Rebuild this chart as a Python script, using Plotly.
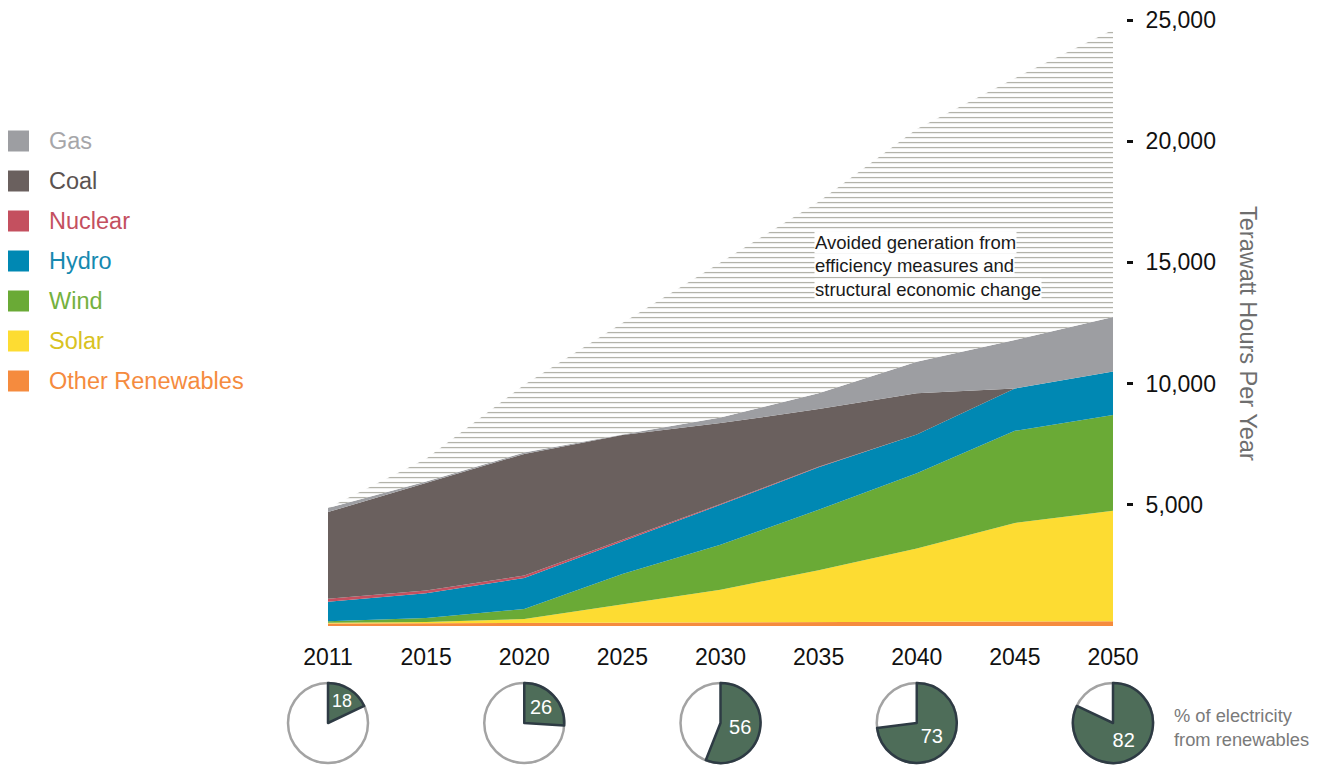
import plotly.graph_objects as go

W, H = 1322, 766
OFF = 8  # page body margin

years = ["2011", "2015", "2020", "2025", "2030", "2035", "2040", "2045", "2050"]

other_ren = [100, 110, 120, 130, 140, 150, 160, 180, 200]
solar = [30, 60, 170, 770, 1360, 2150, 3040, 4070, 4550]
wind = [70, 160, 410, 1250, 1850, 2500, 3100, 3800, 3950]
hydro = [800, 1020, 1280, 1330, 1650, 1750, 1600, 1750, 1800]
nuclear = [120, 110, 100, 60, 30, 20, 0, 0, 0]
coal = [3580, 4440, 5020, 4340, 3340, 2380, 1700, 0, 0]
gas = [170, 60, 60, 20, 230, 650, 1300, 2000, 2250]
avoided = [0, 940, 2790, 4600, 6400, 7900, 9600, 10800, 11850]

pie_years = ["2011", "2020", "2030", "2040", "2050"]
renew_pct = [18, 26, 56, 73, 82]

y_ticks = [5000, 10000, 15000, 20000, 25000]
y_ticktext = ["5,000", "10,000", "15,000", "20,000", "25,000"]

series = [
    ("Other Renewables", other_ren, "#f58b3e", "#f58b3e"),
    ("Solar", solar, "#fddc32", "#d9c222"),
    ("Wind", wind, "#6aaa36", "#75b13e"),
    ("Hydro", hydro, "#0088b3", "#1689b0"),
    ("Nuclear", nuclear, "#c4505f", "#c4505f"),
    ("Coal", coal, "#6a605e", "#5b5351"),
    ("Gas", gas, "#9d9ea2", "#a6a6a9"),
]

FONT = "Liberation Sans, Arial, sans-serif"


def fx(x):
    return (x - OFF) / W


def fy(y):
    return 1 - (y - OFF) / H


Y_MAX = 25200
px_per_unit = (626 - 20) / 25000
xd0, xd1 = fx(328), fx(1113)
yd0, yd1 = fy(626), fy(626 - Y_MAX * px_per_unit)

fig = go.Figure()

for name, vals, col, _ in series:
    fig.add_trace(go.Scatter(
        x=years, y=vals, name=name, stackgroup="one", mode="lines",
        line=dict(width=0, color=col), fillcolor=col, showlegend=False,
        hoverinfo="x+y+name",
    ))

fig.add_trace(go.Scatter(
    x=years, y=avoided, name="Avoided generation", stackgroup="one", mode="lines",
    line=dict(width=0, color="white"), fillcolor="white",
    fillpattern=dict(shape="-", fgcolor="#a6a69c", bgcolor="white", size=5, solidity=0.22),
    showlegend=False,
))

# pies
n = len(years)
r = 40
cy = 723
for pyear, pct in zip(pie_years, renew_pct):
    i = years.index(pyear)
    cxf = xd0 + i / (n - 1) * (xd1 - xd0)
    dom = dict(x=[cxf - r / W, cxf + r / W], y=[fy(cy + r), fy(cy - r)])
    # white disc with grey outline
    fig.add_trace(go.Pie(
        values=[100], labels=["Total"], textinfo="none", sort=False,
        marker=dict(colors=["white"], line=dict(color="#a3a3a3", width=2.5)),
        domain=dom, showlegend=False, hoverinfo="skip",
    ))
    # renewable share slice
    fig.add_trace(go.Pie(
        values=[pct, 100 - pct], labels=["Renewables", "Other"],
        text=[str(pct), ""], textinfo="text", textposition="inside",
        insidetextorientation="horizontal",
        textfont=dict(size=20, color="white", family=FONT),
        sort=False, direction="clockwise", rotation=0,
        marker=dict(colors=["#4e6d59", "rgba(0,0,0,0)"],
                    line=dict(color=["#2e3b44", "rgba(0,0,0,0)"], width=[2.5, 0])),
        domain=dom, showlegend=False, hoverinfo="label+percent",
    ))

annotations = []
shapes = []
# legend (custom)
for k, (name, vals, col, tcol) in enumerate(reversed(series)):
    yc = 141 + k * 40
    shapes.append(dict(type="rect", xref="paper", yref="paper",
                       x0=fx(8), x1=fx(29), y0=fy(yc + 10.5), y1=fy(yc - 10.5),
                       fillcolor=col, line=dict(width=0)))
    annotations.append(dict(text=name, xref="paper", yref="paper", x=fx(47), y=fy(yc),
                            xanchor="left", yanchor="middle", showarrow=False,
                            font=dict(size=23.5, color=tcol, family=FONT)))

for j, line in enumerate(["Avoided generation from", "efficiency measures and",
                          "structural economic change"]):
    annotations.append(dict(text=line, xref="paper", yref="paper", x=fx(814),
                            y=fy(242 + j * 23.5), xanchor="left", yanchor="middle",
                            showarrow=False, bgcolor="white", borderpad=0,
                            font=dict(size=18.5, color="#1a1a1a", family=FONT)))

annotations.append(dict(text="Terawatt Hours Per Year", xref="paper", yref="paper",
                        x=fx(1248), y=fy(333), textangle=90, showarrow=False,
                        xanchor="center", yanchor="middle",
                        font=dict(size=23.5, color="#6e6e6e", family=FONT)))

annotations.append(dict(text="% of electricity<br>from renewables", xref="paper", yref="paper",
                        x=fx(1172), y=fy(727), xanchor="left", yanchor="middle",
                        align="left", showarrow=False,
                        font=dict(size=18.3, color="#7a7a7a", family=FONT)))

fig.update_layout(
    template="none",
    width=W, height=H,
    margin=dict(l=0, r=0, t=0, b=0, pad=0, autoexpand=False),
    paper_bgcolor="white", plot_bgcolor="white",
    showlegend=False,
    font=dict(family=FONT),
    xaxis=dict(domain=[xd0, xd1], type="category", range=[0, n - 1], automargin=False,
               showgrid=False, zeroline=False, showline=False, ticks="",
               tickfont=dict(size=23, color="#111111", family=FONT),
               ticklabelstandoff=15),
    yaxis=dict(domain=[yd0, yd1], range=[0, Y_MAX], side="right", anchor="free",
               position=fx(1126), showgrid=False, zeroline=False, showline=False,
               automargin=False, ticklabeloverflow="allow",
               tickvals=y_ticks, ticktext=y_ticktext, ticks="outside", ticklen=6,
               tickwidth=2.5, tickcolor="#111111", ticklabelstandoff=8,
               tickfont=dict(size=23, color="#111111", family=FONT)),
    annotations=annotations, shapes=shapes,
)

fig.write_html("out.html")
